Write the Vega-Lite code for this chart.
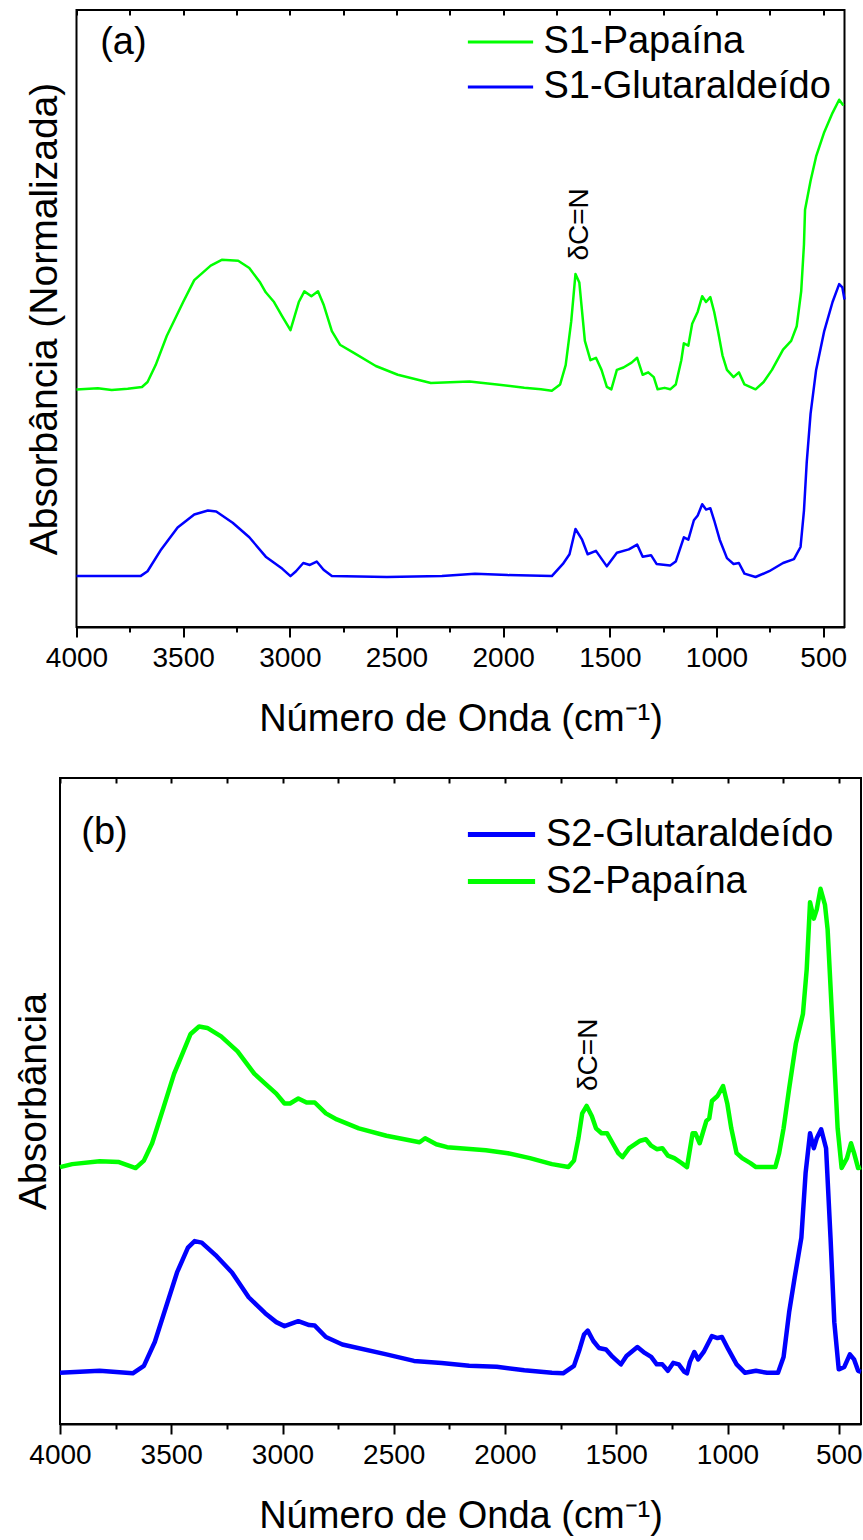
{
"$schema": "https://vega.github.io/schema/vega-lite/v6.json",
"padding": {"left": 13, "top": 8, "right": 0, "bottom": 0},
"config": {
 "font": "Liberation Sans",
 "view": {"stroke": "black", "strokeWidth": 2},
 "axis": {"grid": false, "domainColor": "black", "tickColor": "black", "labelColor": "black", "titleColor": "black", "domainWidth": 2, "tickWidth": 2, "labelFont": "Liberation Sans", "titleFont": "Liberation Sans", "titleFontWeight": "normal"},
 "legend": {"labelFont": "Liberation Sans", "labelColor": "black"},
 "text": {"font": "Liberation Sans", "color": "black"}
},
"datasets": {
 "spectra": [
{"p":"a","s":"S1-Papaína","wn":4000,"a":0.385},{"p":"a","s":"S1-Papaína","wn":3900,"a":0.387},{"p":"a","s":"S1-Papaína","wn":3835,"a":0.384},{"p":"a","s":"S1-Papaína","wn":3760,"a":0.386},{"p":"a","s":"S1-Papaína","wn":3693,"a":0.389},{"p":"a","s":"S1-Papaína","wn":3667,"a":0.397},{"p":"a","s":"S1-Papaína","wn":3629,"a":0.4245},{"p":"a","s":"S1-Papaína","wn":3577,"a":0.4717},{"p":"a","s":"S1-Papaína","wn":3500,"a":0.5267},{"p":"a","s":"S1-Papaína","wn":3448,"a":0.5621},{"p":"a","s":"S1-Papaína","wn":3371,"a":0.5857},{"p":"a","s":"S1-Papaína","wn":3319,"a":0.5951},{"p":"a","s":"S1-Papaína","wn":3242,"a":0.5936},{"p":"a","s":"S1-Papaína","wn":3190,"a":0.5818},{"p":"a","s":"S1-Papaína","wn":3139,"a":0.5582},{"p":"a","s":"S1-Papaína","wn":3113,"a":0.5425},{"p":"a","s":"S1-Papaína","wn":3074,"a":0.5267},{"p":"a","s":"S1-Papaína","wn":3035,"a":0.5031},{"p":"a","s":"S1-Papaína","wn":2997,"a":0.4811},{"p":"a","s":"S1-Papaína","wn":2958,"a":0.5267},{"p":"a","s":"S1-Papaína","wn":2932,"a":0.544},{"p":"a","s":"S1-Papaína","wn":2899,"a":0.5362},{"p":"a","s":"S1-Papaína","wn":2868,"a":0.544},{"p":"a","s":"S1-Papaína","wn":2842,"a":0.5228},{"p":"a","s":"S1-Papaína","wn":2803,"a":0.4796},{"p":"a","s":"S1-Papaína","wn":2765,"a":0.4575},{"p":"a","s":"S1-Papaína","wn":2700,"a":0.4442},{"p":"a","s":"S1-Papaína","wn":2597,"a":0.423},{"p":"a","s":"S1-Papaína","wn":2494,"a":0.4088},{"p":"a","s":"S1-Papaína","wn":2339,"a":0.3954},{"p":"a","s":"S1-Papaína","wn":2158,"a":0.3978},{"p":"a","s":"S1-Papaína","wn":2029,"a":0.3931},{"p":"a","s":"S1-Papaína","wn":1901,"a":0.3876},{"p":"a","s":"S1-Papaína","wn":1823,"a":0.3852},{"p":"a","s":"S1-Papaína","wn":1772,"a":0.3829},{"p":"a","s":"S1-Papaína","wn":1733,"a":0.3931},{"p":"a","s":"S1-Papaína","wn":1707,"a":0.4245},{"p":"a","s":"S1-Papaína","wn":1681,"a":0.4953},{"p":"a","s":"S1-Papaína","wn":1661,"a":0.5723},{"p":"a","s":"S1-Papaína","wn":1643,"a":0.5582},{"p":"a","s":"S1-Papaína","wn":1617,"a":0.4638},{"p":"a","s":"S1-Papaína","wn":1591,"a":0.4324},{"p":"a","s":"S1-Papaína","wn":1565,"a":0.4363},{"p":"a","s":"S1-Papaína","wn":1539,"a":0.4167},{"p":"a","s":"S1-Papaína","wn":1514,"a":0.3892},{"p":"a","s":"S1-Papaína","wn":1493,"a":0.3852},{"p":"a","s":"S1-Papaína","wn":1467,"a":0.4167},{"p":"a","s":"S1-Papaína","wn":1436,"a":0.4206},{"p":"a","s":"S1-Papaína","wn":1398,"a":0.4285},{"p":"a","s":"S1-Papaína","wn":1372,"a":0.4363},{"p":"a","s":"S1-Papaína","wn":1346,"a":0.4088},{"p":"a","s":"S1-Papaína","wn":1320,"a":0.4127},{"p":"a","s":"S1-Papaína","wn":1294,"a":0.4049},{"p":"a","s":"S1-Papaína","wn":1276,"a":0.3852},{"p":"a","s":"S1-Papaína","wn":1243,"a":0.3876},{"p":"a","s":"S1-Papaína","wn":1217,"a":0.3852},{"p":"a","s":"S1-Papaína","wn":1191,"a":0.3931},{"p":"a","s":"S1-Papaína","wn":1165,"a":0.4324},{"p":"a","s":"S1-Papaína","wn":1153,"a":0.4599},{"p":"a","s":"S1-Papaína","wn":1132,"a":0.456},{"p":"a","s":"S1-Papaína","wn":1114,"a":0.4914},{"p":"a","s":"S1-Papaína","wn":1088,"a":0.511},{"p":"a","s":"S1-Papaína","wn":1067,"a":0.5362},{"p":"a","s":"S1-Papaína","wn":1049,"a":0.5267},{"p":"a","s":"S1-Papaína","wn":1029,"a":0.5346},{"p":"a","s":"S1-Papaína","wn":1011,"a":0.511},{"p":"a","s":"S1-Papaína","wn":993,"a":0.4796},{"p":"a","s":"S1-Papaína","wn":972,"a":0.4403},{"p":"a","s":"S1-Papaína","wn":951,"a":0.4167},{"p":"a","s":"S1-Papaína","wn":920,"a":0.4049},{"p":"a","s":"S1-Papaína","wn":895,"a":0.4127},{"p":"a","s":"S1-Papaína","wn":869,"a":0.3931},{"p":"a","s":"S1-Papaína","wn":817,"a":0.3852},{"p":"a","s":"S1-Papaína","wn":779,"a":0.397},{"p":"a","s":"S1-Papaína","wn":740,"a":0.4167},{"p":"a","s":"S1-Papaína","wn":688,"a":0.4497},{"p":"a","s":"S1-Papaína","wn":650,"a":0.4638},{"p":"a","s":"S1-Papaína","wn":624,"a":0.4874},{"p":"a","s":"S1-Papaína","wn":603,"a":0.544},{"p":"a","s":"S1-Papaína","wn":590,"a":0.62},{"p":"a","s":"S1-Papaína","wn":585,"a":0.6761},{"p":"a","s":"S1-Papaína","wn":559,"a":0.7233},{"p":"a","s":"S1-Papaína","wn":533,"a":0.7626},{"p":"a","s":"S1-Papaína","wn":495,"a":0.8019},{"p":"a","s":"S1-Papaína","wn":456,"a":0.8333},{"p":"a","s":"S1-Papaína","wn":425,"a":0.8546},{"p":"a","s":"S1-Papaína","wn":405,"a":0.8451},
{"p":"a","s":"S1-Glutaraldeído","wn":4000,"a":0.0825},{"p":"a","s":"S1-Glutaraldeído","wn":3850,"a":0.0825},{"p":"a","s":"S1-Glutaraldeído","wn":3700,"a":0.0825},{"p":"a","s":"S1-Glutaraldeído","wn":3667,"a":0.0904},{"p":"a","s":"S1-Glutaraldeído","wn":3603,"a":0.1258},{"p":"a","s":"S1-Glutaraldeído","wn":3526,"a":0.1612},{"p":"a","s":"S1-Glutaraldeído","wn":3448,"a":0.1824},{"p":"a","s":"S1-Glutaraldeído","wn":3384,"a":0.1887},{"p":"a","s":"S1-Glutaraldeído","wn":3345,"a":0.1871},{"p":"a","s":"S1-Glutaraldeído","wn":3268,"a":0.169},{"p":"a","s":"S1-Glutaraldeído","wn":3190,"a":0.1454},{"p":"a","s":"S1-Glutaraldeído","wn":3113,"a":0.114},{"p":"a","s":"S1-Glutaraldeído","wn":3035,"a":0.0943},{"p":"a","s":"S1-Glutaraldeído","wn":2997,"a":0.0825},{"p":"a","s":"S1-Glutaraldeído","wn":2971,"a":0.0904},{"p":"a","s":"S1-Glutaraldeído","wn":2937,"a":0.1038},{"p":"a","s":"S1-Glutaraldeído","wn":2906,"a":0.1006},{"p":"a","s":"S1-Glutaraldeído","wn":2874,"a":0.1061},{"p":"a","s":"S1-Glutaraldeído","wn":2842,"a":0.0928},{"p":"a","s":"S1-Glutaraldeído","wn":2803,"a":0.0825},{"p":"a","s":"S1-Glutaraldeído","wn":2545,"a":0.081},{"p":"a","s":"S1-Glutaraldeído","wn":2287,"a":0.0825},{"p":"a","s":"S1-Glutaraldeído","wn":2132,"a":0.0865},{"p":"a","s":"S1-Glutaraldeído","wn":1978,"a":0.0841},{"p":"a","s":"S1-Glutaraldeído","wn":1772,"a":0.0825},{"p":"a","s":"S1-Glutaraldeído","wn":1720,"a":0.1022},{"p":"a","s":"S1-Glutaraldeído","wn":1689,"a":0.1179},{"p":"a","s":"S1-Glutaraldeído","wn":1661,"a":0.1588},{"p":"a","s":"S1-Glutaraldeído","wn":1630,"a":0.1415},{"p":"a","s":"S1-Glutaraldeído","wn":1604,"a":0.1179},{"p":"a","s":"S1-Glutaraldeído","wn":1565,"a":0.1234},{"p":"a","s":"S1-Glutaraldeído","wn":1514,"a":0.0983},{"p":"a","s":"S1-Glutaraldeído","wn":1467,"a":0.1203},{"p":"a","s":"S1-Glutaraldeído","wn":1411,"a":0.1258},{"p":"a","s":"S1-Glutaraldeído","wn":1372,"a":0.1336},{"p":"a","s":"S1-Glutaraldeído","wn":1346,"a":0.114},{"p":"a","s":"S1-Glutaraldeído","wn":1307,"a":0.1164},{"p":"a","s":"S1-Glutaraldeído","wn":1281,"a":0.1022},{"p":"a","s":"S1-Glutaraldeído","wn":1217,"a":0.0998},{"p":"a","s":"S1-Glutaraldeído","wn":1191,"a":0.1061},{"p":"a","s":"S1-Glutaraldeído","wn":1153,"a":0.1454},{"p":"a","s":"S1-Glutaraldeído","wn":1132,"a":0.1415},{"p":"a","s":"S1-Glutaraldeído","wn":1106,"a":0.173},{"p":"a","s":"S1-Glutaraldeído","wn":1088,"a":0.1808},{"p":"a","s":"S1-Glutaraldeído","wn":1067,"a":0.1989},{"p":"a","s":"S1-Glutaraldeído","wn":1049,"a":0.1903},{"p":"a","s":"S1-Glutaraldeído","wn":1029,"a":0.1926},{"p":"a","s":"S1-Glutaraldeído","wn":1011,"a":0.173},{"p":"a","s":"S1-Glutaraldeído","wn":985,"a":0.1415},{"p":"a","s":"S1-Glutaraldeído","wn":951,"a":0.1116},{"p":"a","s":"S1-Glutaraldeído","wn":920,"a":0.1022},{"p":"a","s":"S1-Glutaraldeído","wn":895,"a":0.1038},{"p":"a","s":"S1-Glutaraldeído","wn":869,"a":0.0865},{"p":"a","s":"S1-Glutaraldeído","wn":817,"a":0.081},{"p":"a","s":"S1-Glutaraldeído","wn":753,"a":0.0904},{"p":"a","s":"S1-Glutaraldeído","wn":688,"a":0.1038},{"p":"a","s":"S1-Glutaraldeído","wn":637,"a":0.1101},{"p":"a","s":"S1-Glutaraldeído","wn":606,"a":0.1297},{"p":"a","s":"S1-Glutaraldeído","wn":590,"a":0.1887},{"p":"a","s":"S1-Glutaraldeído","wn":577,"a":0.2673},{"p":"a","s":"S1-Glutaraldeído","wn":559,"a":0.3459},{"p":"a","s":"S1-Glutaraldeído","wn":533,"a":0.4167},{"p":"a","s":"S1-Glutaraldeído","wn":495,"a":0.4796},{"p":"a","s":"S1-Glutaraldeído","wn":456,"a":0.5267},{"p":"a","s":"S1-Glutaraldeído","wn":425,"a":0.5558},{"p":"a","s":"S1-Glutaraldeído","wn":410,"a":0.5503},{"p":"a","s":"S1-Glutaraldeído","wn":400,"a":0.5307},
{"p":"b","s":"S2-Papaína","wn":4000,"a":0.3977},{"p":"b","s":"S2-Papaína","wn":3945,"a":0.4023},{"p":"b","s":"S2-Papaína","wn":3822,"a":0.4069},{"p":"b","s":"S2-Papaína","wn":3735,"a":0.4054},{"p":"b","s":"S2-Papaína","wn":3660,"a":0.3962},{"p":"b","s":"S2-Papaína","wn":3623,"a":0.4077},{"p":"b","s":"S2-Papaína","wn":3586,"a":0.4346},{"p":"b","s":"S2-Papaína","wn":3536,"a":0.4885},{"p":"b","s":"S2-Papaína","wn":3487,"a":0.5423},{"p":"b","s":"S2-Papaína","wn":3450,"a":0.5731},{"p":"b","s":"S2-Papaína","wn":3413,"a":0.6038},{"p":"b","s":"S2-Papaína","wn":3375,"a":0.6154},{"p":"b","s":"S2-Papaína","wn":3338,"a":0.6131},{"p":"b","s":"S2-Papaína","wn":3276,"a":0.6},{"p":"b","s":"S2-Papaína","wn":3202,"a":0.5769},{"p":"b","s":"S2-Papaína","wn":3127,"a":0.5423},{"p":"b","s":"S2-Papaína","wn":3078,"a":0.5269},{"p":"b","s":"S2-Papaína","wn":3028,"a":0.5115},{"p":"b","s":"S2-Papaína","wn":2991,"a":0.4962},{"p":"b","s":"S2-Papaína","wn":2966,"a":0.4962},{"p":"b","s":"S2-Papaína","wn":2929,"a":0.5038},{"p":"b","s":"S2-Papaína","wn":2892,"a":0.4977},{"p":"b","s":"S2-Papaína","wn":2855,"a":0.4977},{"p":"b","s":"S2-Papaína","wn":2805,"a":0.4808},{"p":"b","s":"S2-Papaína","wn":2756,"a":0.4715},{"p":"b","s":"S2-Papaína","wn":2657,"a":0.4577},{"p":"b","s":"S2-Papaína","wn":2533,"a":0.4462},{"p":"b","s":"S2-Papaína","wn":2384,"a":0.4362},{"p":"b","s":"S2-Papaína","wn":2359,"a":0.4423},{"p":"b","s":"S2-Papaína","wn":2309,"a":0.4331},{"p":"b","s":"S2-Papaína","wn":2260,"a":0.4285},{"p":"b","s":"S2-Papaína","wn":2086,"a":0.4238},{"p":"b","s":"S2-Papaína","wn":1987,"a":0.4192},{"p":"b","s":"S2-Papaína","wn":1888,"a":0.4115},{"p":"b","s":"S2-Papaína","wn":1789,"a":0.4023},{"p":"b","s":"S2-Papaína","wn":1715,"a":0.3977},{"p":"b","s":"S2-Papaína","wn":1690,"a":0.4077},{"p":"b","s":"S2-Papaína","wn":1670,"a":0.4423},{"p":"b","s":"S2-Papaína","wn":1653,"a":0.4808},{"p":"b","s":"S2-Papaína","wn":1633,"a":0.4923},{"p":"b","s":"S2-Papaína","wn":1610,"a":0.4769},{"p":"b","s":"S2-Papaína","wn":1591,"a":0.4577},{"p":"b","s":"S2-Papaína","wn":1566,"a":0.45},{"p":"b","s":"S2-Papaína","wn":1541,"a":0.45},{"p":"b","s":"S2-Papaína","wn":1516,"a":0.4346},{"p":"b","s":"S2-Papaína","wn":1491,"a":0.4192},{"p":"b","s":"S2-Papaína","wn":1472,"a":0.4131},{"p":"b","s":"S2-Papaína","wn":1442,"a":0.4269},{"p":"b","s":"S2-Papaína","wn":1392,"a":0.4385},{"p":"b","s":"S2-Papaína","wn":1367,"a":0.4408},{"p":"b","s":"S2-Papaína","wn":1343,"a":0.4308},{"p":"b","s":"S2-Papaína","wn":1318,"a":0.4254},{"p":"b","s":"S2-Papaína","wn":1293,"a":0.4269},{"p":"b","s":"S2-Papaína","wn":1268,"a":0.4154},{"p":"b","s":"S2-Papaína","wn":1239,"a":0.4115},{"p":"b","s":"S2-Papaína","wn":1206,"a":0.4038},{"p":"b","s":"S2-Papaína","wn":1182,"a":0.3977},{"p":"b","s":"S2-Papaína","wn":1157,"a":0.45},{"p":"b","s":"S2-Papaína","wn":1144,"a":0.45},{"p":"b","s":"S2-Papaína","wn":1125,"a":0.4346},{"p":"b","s":"S2-Papaína","wn":1095,"a":0.4692},{"p":"b","s":"S2-Papaína","wn":1082,"a":0.4731},{"p":"b","s":"S2-Papaína","wn":1070,"a":0.5},{"p":"b","s":"S2-Papaína","wn":1045,"a":0.5077},{"p":"b","s":"S2-Papaína","wn":1020,"a":0.5231},{"p":"b","s":"S2-Papaína","wn":1001,"a":0.4962},{"p":"b","s":"S2-Papaína","wn":983,"a":0.4577},{"p":"b","s":"S2-Papaína","wn":959,"a":0.4192},{"p":"b","s":"S2-Papaína","wn":934,"a":0.4115},{"p":"b","s":"S2-Papaína","wn":897,"a":0.4038},{"p":"b","s":"S2-Papaína","wn":872,"a":0.3977},{"p":"b","s":"S2-Papaína","wn":847,"a":0.3977},{"p":"b","s":"S2-Papaína","wn":785,"a":0.3977},{"p":"b","s":"S2-Papaína","wn":768,"a":0.4192},{"p":"b","s":"S2-Papaína","wn":748,"a":0.4577},{"p":"b","s":"S2-Papaína","wn":723,"a":0.5192},{"p":"b","s":"S2-Papaína","wn":693,"a":0.5885},{"p":"b","s":"S2-Papaína","wn":661,"a":0.6346},{"p":"b","s":"S2-Papaína","wn":644,"a":0.7038},{"p":"b","s":"S2-Papaína","wn":629,"a":0.8077},{"p":"b","s":"S2-Papaína","wn":612,"a":0.7823},{"p":"b","s":"S2-Papaína","wn":599,"a":0.7962},{"p":"b","s":"S2-Papaína","wn":582,"a":0.8285},{"p":"b","s":"S2-Papaína","wn":562,"a":0.8038},{"p":"b","s":"S2-Papaína","wn":550,"a":0.7654},{"p":"b","s":"S2-Papaína","wn":525,"a":0.5962},{"p":"b","s":"S2-Papaína","wn":505,"a":0.4577},{"p":"b","s":"S2-Papaína","wn":487,"a":0.3962},{"p":"b","s":"S2-Papaína","wn":463,"a":0.4115},{"p":"b","s":"S2-Papaína","wn":445,"a":0.4346},{"p":"b","s":"S2-Papaína","wn":431,"a":0.4192},{"p":"b","s":"S2-Papaína","wn":413,"a":0.3962},{"p":"b","s":"S2-Papaína","wn":400,"a":0.3977},
{"p":"b","s":"S2-Glutaraldeído","wn":4000,"a":0.0792},{"p":"b","s":"S2-Glutaraldeído","wn":3822,"a":0.0823},{"p":"b","s":"S2-Glutaraldeído","wn":3673,"a":0.0785},{"p":"b","s":"S2-Glutaraldeído","wn":3623,"a":0.09},{"p":"b","s":"S2-Glutaraldeído","wn":3574,"a":0.1269},{"p":"b","s":"S2-Glutaraldeído","wn":3524,"a":0.1808},{"p":"b","s":"S2-Glutaraldeído","wn":3474,"a":0.2346},{"p":"b","s":"S2-Glutaraldeído","wn":3425,"a":0.2731},{"p":"b","s":"S2-Glutaraldeído","wn":3395,"a":0.2831},{"p":"b","s":"S2-Glutaraldeído","wn":3363,"a":0.2808},{"p":"b","s":"S2-Glutaraldeído","wn":3301,"a":0.2615},{"p":"b","s":"S2-Glutaraldeído","wn":3227,"a":0.2346},{"p":"b","s":"S2-Glutaraldeído","wn":3152,"a":0.1962},{"p":"b","s":"S2-Glutaraldeído","wn":3078,"a":0.1715},{"p":"b","s":"S2-Glutaraldeído","wn":3028,"a":0.1577},{"p":"b","s":"S2-Glutaraldeído","wn":2991,"a":0.1515},{"p":"b","s":"S2-Glutaraldeído","wn":2929,"a":0.1592},{"p":"b","s":"S2-Glutaraldeído","wn":2880,"a":0.1531},{"p":"b","s":"S2-Glutaraldeído","wn":2855,"a":0.1523},{"p":"b","s":"S2-Glutaraldeído","wn":2805,"a":0.1346},{"p":"b","s":"S2-Glutaraldeído","wn":2731,"a":0.1231},{"p":"b","s":"S2-Glutaraldeído","wn":2533,"a":0.1077},{"p":"b","s":"S2-Glutaraldeído","wn":2409,"a":0.0977},{"p":"b","s":"S2-Glutaraldeído","wn":2285,"a":0.0946},{"p":"b","s":"S2-Glutaraldeído","wn":2161,"a":0.09},{"p":"b","s":"S2-Glutaraldeído","wn":2037,"a":0.0885},{"p":"b","s":"S2-Glutaraldeído","wn":1913,"a":0.0831},{"p":"b","s":"S2-Glutaraldeído","wn":1789,"a":0.0792},{"p":"b","s":"S2-Glutaraldeído","wn":1739,"a":0.0785},{"p":"b","s":"S2-Glutaraldeído","wn":1690,"a":0.09},{"p":"b","s":"S2-Glutaraldeído","wn":1665,"a":0.1154},{"p":"b","s":"S2-Glutaraldeído","wn":1645,"a":0.1385},{"p":"b","s":"S2-Glutaraldeído","wn":1628,"a":0.1446},{"p":"b","s":"S2-Glutaraldeído","wn":1603,"a":0.1285},{"p":"b","s":"S2-Glutaraldeído","wn":1578,"a":0.1177},{"p":"b","s":"S2-Glutaraldeído","wn":1546,"a":0.1154},{"p":"b","s":"S2-Glutaraldeído","wn":1516,"a":0.1038},{"p":"b","s":"S2-Glutaraldeído","wn":1479,"a":0.0923},{"p":"b","s":"S2-Glutaraldeído","wn":1454,"a":0.1054},{"p":"b","s":"S2-Glutaraldeído","wn":1405,"a":0.1192},{"p":"b","s":"S2-Glutaraldeído","wn":1372,"a":0.11},{"p":"b","s":"S2-Glutaraldeído","wn":1343,"a":0.1038},{"p":"b","s":"S2-Glutaraldeído","wn":1318,"a":0.0923},{"p":"b","s":"S2-Glutaraldeído","wn":1293,"a":0.0923},{"p":"b","s":"S2-Glutaraldeído","wn":1268,"a":0.0823},{"p":"b","s":"S2-Glutaraldeído","wn":1244,"a":0.0946},{"p":"b","s":"S2-Glutaraldeído","wn":1219,"a":0.0923},{"p":"b","s":"S2-Glutaraldeído","wn":1194,"a":0.0808},{"p":"b","s":"S2-Glutaraldeído","wn":1182,"a":0.0785},{"p":"b","s":"S2-Glutaraldeído","wn":1169,"a":0.0962},{"p":"b","s":"S2-Glutaraldeído","wn":1149,"a":0.1115},{"p":"b","s":"S2-Glutaraldeído","wn":1132,"a":0.1},{"p":"b","s":"S2-Glutaraldeído","wn":1107,"a":0.1115},{"p":"b","s":"S2-Glutaraldeído","wn":1070,"a":0.1362},{"p":"b","s":"S2-Glutaraldeído","wn":1045,"a":0.1331},{"p":"b","s":"S2-Glutaraldeído","wn":1025,"a":0.1346},{"p":"b","s":"S2-Glutaraldeído","wn":996,"a":0.1154},{"p":"b","s":"S2-Glutaraldeído","wn":959,"a":0.0923},{"p":"b","s":"S2-Glutaraldeído","wn":921,"a":0.0792},{"p":"b","s":"S2-Glutaraldeído","wn":872,"a":0.0823},{"p":"b","s":"S2-Glutaraldeído","wn":822,"a":0.0792},{"p":"b","s":"S2-Glutaraldeído","wn":773,"a":0.0792},{"p":"b","s":"S2-Glutaraldeído","wn":748,"a":0.1038},{"p":"b","s":"S2-Glutaraldeído","wn":723,"a":0.1731},{"p":"b","s":"S2-Glutaraldeído","wn":698,"a":0.2269},{"p":"b","s":"S2-Glutaraldeído","wn":668,"a":0.2885},{"p":"b","s":"S2-Glutaraldeído","wn":649,"a":0.3885},{"p":"b","s":"S2-Glutaraldeído","wn":629,"a":0.45},{"p":"b","s":"S2-Glutaraldeído","wn":612,"a":0.4269},{"p":"b","s":"S2-Glutaraldeído","wn":599,"a":0.4423},{"p":"b","s":"S2-Glutaraldeído","wn":579,"a":0.4562},{"p":"b","s":"S2-Glutaraldeído","wn":557,"a":0.4269},{"p":"b","s":"S2-Glutaraldeído","wn":537,"a":0.2885},{"p":"b","s":"S2-Glutaraldeído","wn":520,"a":0.1577},{"p":"b","s":"S2-Glutaraldeído","wn":500,"a":0.0846},{"p":"b","s":"S2-Glutaraldeído","wn":475,"a":0.0885},{"p":"b","s":"S2-Glutaraldeído","wn":450,"a":0.1077},{"p":"b","s":"S2-Glutaraldeído","wn":431,"a":0.1},{"p":"b","s":"S2-Glutaraldeído","wn":413,"a":0.0823},{"p":"b","s":"S2-Glutaraldeído","wn":400,"a":0.0808}
 ],
 "notes": [
  {"p":"a","k":"panel","t":"(a)","wn":3780,"a":0.9465},
  {"p":"a","k":"band","t":"δC=N","wn":1640,"a":0.6525},
  {"p":"b","k":"panel","t":"(b)","wn":3800,"a":0.915},
  {"p":"b","k":"band","t":"δC=N","wn":1622,"a":0.5715}
 ]
},
"vconcat": [
 {
  "width": 768, "height": 617,
  "resolve": {"axis": {"x": "independent"}},
  "layer": [
   {
    "data": {"name": "spectra"},
    "transform": [{"filter": "datum.p == 'a'"}],
    "mark": {"type": "line", "strokeWidth": 2.5, "strokeJoin": "round"},
    "encoding": {
     "x": {"field": "wn", "type": "quantitative", "scale": {"domain": [4000, 400], "nice": false, "zero": false},
           "axis": {"orient": "bottom", "values": [4000,3500,3000,2500,2000,1500,1000,500], "format": "d", "tickSize": 10, "labelFontSize": 28, "labelPadding": 7, "labelFlush": false, "labelOverlap": false, "title": "Número de Onda (cm⁻¹)", "titleFontSize": 38, "titlePadding": 28}},
     "y": {"field": "a", "type": "quantitative", "scale": {"domain": [0, 1], "nice": false, "zero": false},
           "axis": {"orient": "left", "domain": false, "ticks": false, "labels": false, "title": "Absorbância (Normalizada)", "titleFontSize": 39, "titlePadding": 12}},
     "color": {"field": "s", "type": "nominal", "scale": {"domain": ["S1-Papaína", "S1-Glutaraldeído"], "range": ["#00ff00", "#0000ff"]},
               "legend": {"orient": "none", "legendX": 400, "legendY": 8, "title": null, "symbolType": "M-1.45,0H1.45", "symbolSize": 2025, "symbolStrokeWidth": 3, "labelFontSize": 38, "labelOffset": 19, "rowPadding": 2, "padding": 0, "labelLimit": 600}}
    }
   },
   {
    "data": {"name": "notes"},
    "transform": [{"filter": "datum.p == 'a' && datum.k == 'panel'"}],
    "mark": {"type": "text", "fontSize": 38, "align": "center", "baseline": "middle"},
    "encoding": {
     "x": {"field": "wn", "type": "quantitative", "axis": {"orient": "bottom", "values": [3750,3250,2750,2250,1750,1250,750], "tickSize": 5, "labels": false, "domain": false, "title": null}},
     "y": {"field": "a", "type": "quantitative", "axis": {"orient": "left", "domain": false, "ticks": false, "labels": false, "title": "Absorbância (Normalizada)", "titleFontSize": 39, "titlePadding": 12}},
     "text": {"field": "t"}
    }
   },
   {
    "data": {"name": "notes"},
    "transform": [{"filter": "datum.p == 'a' && datum.k == 'band'"}],
    "mark": {"type": "text", "fontSize": 28, "angle": 270, "align": "center", "baseline": "middle"},
    "encoding": {
     "x": {"field": "wn", "type": "quantitative", "axis": {"orient": "top", "values": [4000,3750,3500,3250,3000,2750,2500,2250,2000,1750,1500,1250,1000,750,500], "tickSize": -5, "labels": false, "domain": false, "title": null}},
     "y": {"field": "a", "type": "quantitative", "axis": {"orient": "left", "domain": false, "ticks": false, "labels": false, "title": "Absorbância (Normalizada)", "titleFontSize": 39, "titlePadding": 12}},
     "text": {"field": "t"}
    }
   }
  ]
 },
 {
  "width": 801, "height": 646,
  "resolve": {"axis": {"x": "independent"}},
  "layer": [
   {
    "data": {"name": "spectra"},
    "transform": [{"filter": "datum.p == 'b'"}],
    "mark": {"type": "line", "strokeWidth": 4.5, "strokeJoin": "round"},
    "encoding": {
     "x": {"field": "wn", "type": "quantitative", "scale": {"domain": [4000, 400], "nice": false, "zero": false},
           "axis": {"orient": "bottom", "values": [4000,3500,3000,2500,2000,1500,1000,500], "format": "d", "tickSize": 10, "labelFontSize": 28, "labelPadding": 7, "labelFlush": false, "labelOverlap": false, "title": "Número de Onda (cm⁻¹)", "titleFontSize": 38, "titlePadding": 28}},
     "y": {"field": "a", "type": "quantitative", "scale": {"domain": [0, 1], "nice": false, "zero": false},
           "axis": {"orient": "left", "domain": false, "ticks": false, "labels": false, "title": "Absorbância", "titleFontSize": 39, "titlePadding": 7}},
     "color": {"field": "s", "type": "nominal", "scale": {"domain": ["S2-Glutaraldeído", "S2-Papaína"], "range": ["#0000ff", "#00ff00"]},
               "legend": {"orient": "none", "legendX": 415, "legendY": 30, "title": null, "symbolType": "M-1.4,0H1.4", "symbolSize": 2304, "symbolStrokeWidth": 5, "labelFontSize": 38, "labelOffset": 18, "rowPadding": 1, "padding": 0, "labelLimit": 600}}
    }
   },
   {
    "data": {"name": "notes"},
    "transform": [{"filter": "datum.p == 'b' && datum.k == 'panel'"}],
    "mark": {"type": "text", "fontSize": 38, "align": "center", "baseline": "middle"},
    "encoding": {
     "x": {"field": "wn", "type": "quantitative", "axis": {"orient": "bottom", "values": [3750,3250,2750,2250,1750,1250,750], "tickSize": 5, "labels": false, "domain": false, "title": null}},
     "y": {"field": "a", "type": "quantitative", "axis": {"orient": "left", "domain": false, "ticks": false, "labels": false, "title": "Absorbância", "titleFontSize": 39, "titlePadding": 7}},
     "text": {"field": "t"}
    }
   },
   {
    "data": {"name": "notes"},
    "transform": [{"filter": "datum.p == 'b' && datum.k == 'band'"}],
    "mark": {"type": "text", "fontSize": 28, "angle": 270, "align": "center", "baseline": "middle"},
    "encoding": {
     "x": {"field": "wn", "type": "quantitative", "axis": {"orient": "top", "values": [4000,3750,3500,3250,3000,2750,2500,2250,2000,1750,1500,1250,1000,750,500], "tickSize": -5, "labels": false, "domain": false, "title": null}},
     "y": {"field": "a", "type": "quantitative", "axis": {"orient": "left", "domain": false, "ticks": false, "labels": false, "title": "Absorbância", "titleFontSize": 39, "titlePadding": 7}},
     "text": {"field": "t"}
    }
   }
  ]
 }
],
"spacing": 151,
"bounds": "flush",
"center": true,
"resolve": {"scale": {"color": "independent", "x": "independent", "y": "independent"}}
}
